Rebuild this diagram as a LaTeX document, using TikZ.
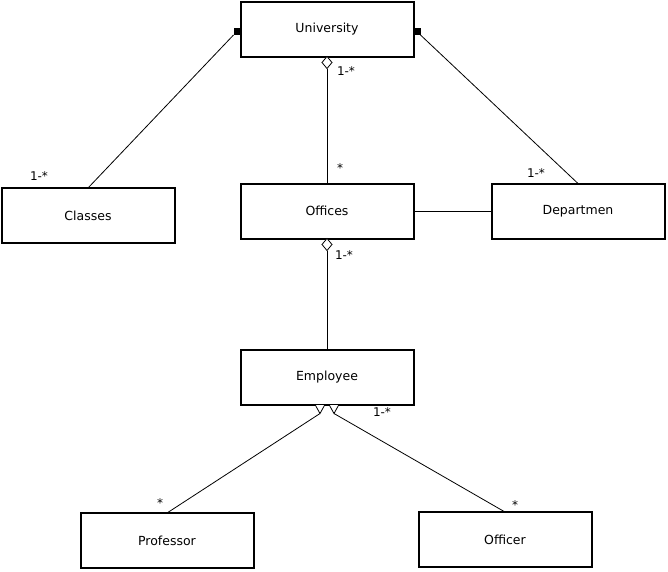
\documentclass[tikz,border=0pt]{standalone}
\usepackage{fontspec}
\setmainfont{DejaVu Sans}
\usetikzlibrary{calc}
\begin{document}
\begin{tikzpicture}[x=1pt,y=-1pt,
  box/.style={draw, line width=2pt, minimum width=173pt, minimum height=55pt, inner sep=0pt, outer sep=0pt, font=\fontsize{12.5}{14}\selectfont},
  lbl/.style={font=\fontsize{12}{14}\selectfont, inner sep=0pt},
  conn/.style={line width=0.8pt}]
\useasboundingbox (0,0) rectangle (668,571);
\node[box] (univ) at (327,29) {University};
\node[box] (classes) at (88,215.5) {Classes};
\node[box] (offices) at (327,211) {Offices};
\node[box] (dept) at (578,211) {Departmen};
\node[box] (emp) at (327,377) {Employee};
\node[box] (prof) at (167,540.5) {Professor};
\node[box] (officer) at (505,539.5) {Officer};
% composition squares
\fill ($(univ.west)+(-7,-1)$) rectangle ($(univ.west)+(0,6)$);
\coordinate (sqL) at ($(univ.west)+(-7,6)$);
\fill ($(univ.east)+(0,-1)$) rectangle ($(univ.east)+(7,6)$);
\coordinate (sqR) at ($(univ.east)+(7,6)$);
\draw[conn] (sqL) -- (classes.north);
\draw[conn] (sqR) -- (dept.north);
% aggregation diamonds
\draw[conn, fill=white] (univ.south) -- ++(5,6) -- ++(-5,6) -- ++(-5,-6) -- cycle;
\coordinate (dU) at ($(univ.south)+(0,12)$);
\draw[conn] (dU) -- (offices.north);
\draw[conn, fill=white] (offices.south) -- ++(5,6) -- ++(-5,6) -- ++(-5,-6) -- cycle;
\coordinate (dO) at ($(offices.south)+(0,12)$);
\draw[conn] (dO) -- (emp.north);
\draw[conn] (offices.east) -- (dept.west);
% generalization triangles
\draw[conn, fill=white] ($(emp.south)+(-12,0)$) -- ++(10,0) -- ++(-5,9) -- cycle;
\coordinate (tP) at ($(emp.south)+(-7,9)$);
\draw[conn, fill=white] ($(emp.south)+(2,0)$) -- ++(10,0) -- ++(-5,9) -- cycle;
\coordinate (tO) at ($(emp.south)+(7,9)$);
\draw[conn] (tP) -- (prof.north);
\draw[conn] (tO) -- (officer.north);
% multiplicities
\node[lbl] (m1) at (346,71) {1-*};
\node[lbl] (m2) at (340,168) {*};
\node[lbl] (m3) at (39,176) {1-*};
\node[lbl] (m4) at (536,173) {1-*};
\node[lbl] (m5) at (344,255) {1-*};
\node[lbl] (m6) at (382,412) {1-*};
\node[lbl] (m7) at (160,503) {*};
\node[lbl] (m8) at (515,505) {*};
\end{tikzpicture}
\end{document}
